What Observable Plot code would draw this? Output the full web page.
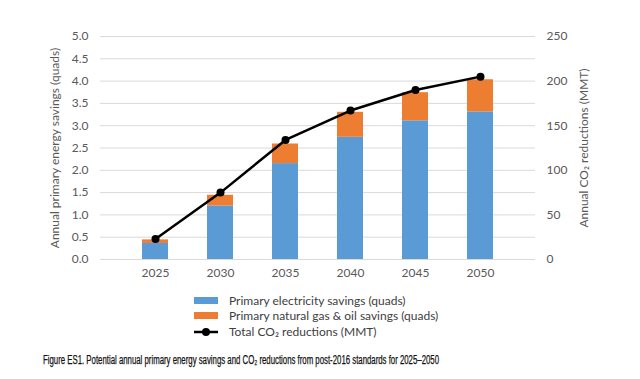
<!DOCTYPE html>
<html><head><meta charset="utf-8">
<script src="https://cdn.jsdelivr.net/npm/d3@7"></script>
<script src="https://cdn.jsdelivr.net/npm/@observablehq/plot@0.6"></script>
<style>
body{margin:0;background:#fff;font-family:Lato,"Open Sans",sans-serif;}
#wrap{position:relative;width:640px;height:379px;overflow:hidden;}
.leg{position:absolute;left:194px;font-size:12px;color:#404040;display:flex;align-items:center;white-space:nowrap;}
.sw{width:24px;height:7px;margin-right:11px;}
#cap{position:absolute;left:43px;top:353px;font-family:"Liberation Sans Narrow","Liberation Sans",sans-serif;font-size:12px;color:#111;white-space:nowrap;transform-origin:0 50%;-webkit-text-stroke:0.25px #111;}
</style></head>
<body><div id="wrap"></div>
<script>
const years = ["2025","2030","2035","2040","2045","2050"];
const electricity = [0.36, 1.20, 2.15, 2.74, 3.11, 3.31];
const gasOil = [0.08, 0.24, 0.44, 0.56, 0.63, 0.72];
const co2 = [23, 75, 134, 167, 190, 205];
const seriesNames = ["Primary electricity savings (quads)", "Primary natural gas & oil savings (quads)"];
const colors = ["#5B9BD5", "#ED7D31"];
const leftTicks = [0,0.5,1,1.5,2,2.5,3,3.5,4,4.5,5];
const rightTicks = [0,50,100,150,200,250];
const rightMax = 250, leftMax = 5;

const bars = [];
years.forEach((y,i)=>{
  bars.push({year:y, series:seriesNames[0], value:electricity[i]});
  bars.push({year:y, series:seriesNames[1], value:gasOil[i]});
});
const line = years.map((y,i)=>({year:y, co2:co2[i]}));
const k = leftMax / rightMax;

const chart = Plot.plot({
  width:640, height:280,
  marginTop:36, marginBottom:21, marginLeft:100, marginRight:105,
  style:{fontFamily:"Lato, 'Open Sans', sans-serif", fontSize:"12px", color:"#595959"},
  x:{domain:years, padding:0.6, label:null},
  y:{domain:[0,leftMax]},
  color:{domain:seriesNames, range:colors},
  marks:[
    Plot.ruleY(leftTicks, {stroke:"#d9d9d9", strokeWidth:1}),
    Plot.barY(bars, {x:"year", y:"value", fill:"series", order:seriesNames}),
    Plot.line(line, {x:"year", y:d=>d.co2*k, stroke:"#000", strokeWidth:2.5}),
    Plot.dot(line, {x:"year", y:d=>d.co2*k, fill:"#000", r:4}),
    Plot.axisX({tickSize:0, tickPadding:9, label:null}),
    Plot.axisY(leftTicks, {anchor:"left", tickSize:0, tickPadding:12, tickFormat:d=>d.toFixed(1),
      label:"Annual primary energy savings (quads)", labelAnchor:"center", labelArrow:"none", labelOffset:50}),
    Plot.axisY(rightTicks.map(v=>v*k), {anchor:"right", tickSize:0, tickPadding:11, tickFormat:d=>String(Math.round(d/k)),
      label:"Annual CO₂ reductions (MMT)", labelAnchor:"center", labelArrow:"none", labelOffset:52})
  ]
});
const wrap = document.getElementById("wrap");
wrap.appendChild(chart);

const rows = [
  {top:294, html:`<div class="sw" style="background:${colors[0]}"></div>${seriesNames[0]}`},
  {top:309, html:`<div class="sw" style="background:${colors[1]}"></div>${seriesNames[1]}`},
  {top:325, html:`<svg width="24" height="10" style="margin-right:11px"><line x1="0" y1="5" x2="24" y2="5" stroke="#000" stroke-width="2.5"/><circle cx="12" cy="5" r="4" fill="#000"/></svg>Total CO₂ reductions (MMT)`}
];
rows.forEach(r=>{
  const d=document.createElement("div"); d.className="leg"; d.style.top=r.top+"px"; d.style.height="13px"; d.innerHTML=r.html; wrap.appendChild(d);
});
const cap=document.createElement("div"); cap.id="cap";
cap.textContent="Figure ES1. Potential annual primary energy savings and CO₂ reductions from post-2016 standards for 2025–2050";
wrap.appendChild(cap);
const w = cap.getBoundingClientRect().width;
if (w > 0) cap.style.transform = `scaleX(${396 / w})`;
</script></body></html>
